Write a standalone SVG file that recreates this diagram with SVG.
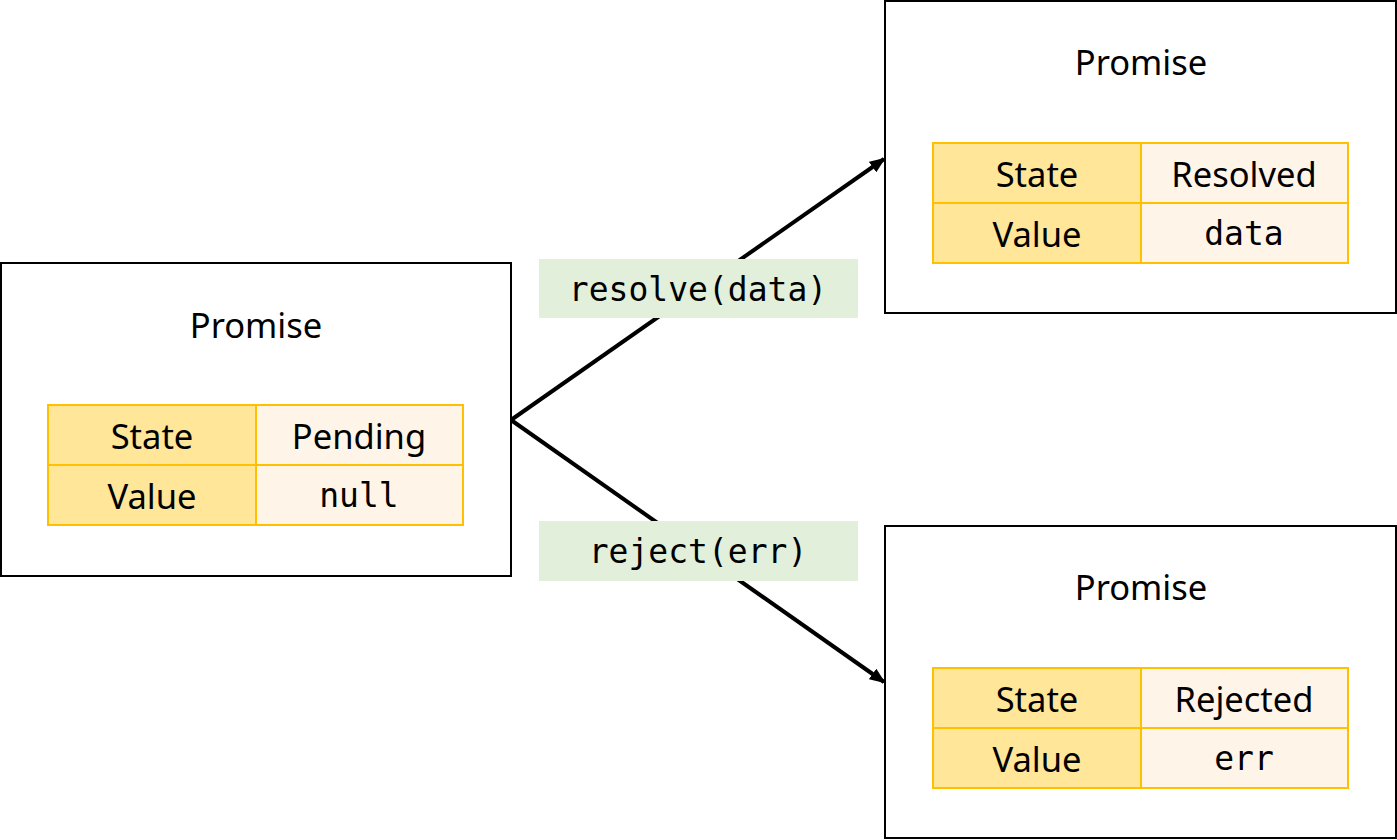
<svg xmlns="http://www.w3.org/2000/svg" width="1397" height="840" viewBox="0 0 1397 840">
<style>
.box{fill:#fff;stroke:#000;stroke-width:2}
.k{fill:#FFE699;stroke:#FFC000;stroke-width:2}
.v{fill:#FFF4E8;stroke:#FFC000;stroke-width:2}
.t{font-family:"Noto Sans","Open Sans",sans-serif;font-size:34.5px;fill:#000;text-anchor:middle;dominant-baseline:central}
.m{font-family:"DejaVu Sans Mono","Liberation Mono",monospace;font-size:33px;fill:#000;text-anchor:middle;dominant-baseline:central}
.lbl{fill:#E2EFDA}
.c{stroke:#000;stroke-width:4;fill:none}
</style>
<defs>
<marker id="ah" markerWidth="16" markerHeight="13" refX="14" refY="6.5" orient="auto" markerUnits="userSpaceOnUse">
<path d="M0,0 L16,6.5 L0,13 Z" fill="#000"/>
</marker>
</defs>
<g id="connectors">
<path class="c" d="M511,420 L884,159" marker-end="url(#ah)"/>
<path class="c" d="M511,420 L884,682" marker-end="url(#ah)"/>
</g>
<g id="label-resolve">
<rect class="lbl" x="539" y="259" width="319" height="59"/>
<text class="m" x="698" y="289">resolve(data)</text>
</g>
<g id="label-reject">
<rect class="lbl" x="539" y="521" width="319" height="60"/>
<text class="m" x="698" y="551">reject(err)</text>
</g>
<g id="pending">
<rect class="box" x="1" y="263" width="510" height="313"/>
<text class="t" x="256" y="324">Promise</text>
<rect class="k" x="48" y="405" width="208" height="60"/>
<rect class="v" x="256" y="405" width="207" height="60"/>
<rect class="k" x="48" y="465" width="208" height="60"/>
<rect class="v" x="256" y="465" width="207" height="60"/>
<text class="t" x="152" y="435">State</text>
<text class="t" x="359" y="435">Pending</text>
<text class="t" x="152" y="495">Value</text>
<text class="m" x="359" y="495">null</text>
</g>
<g id="resolved">
<rect class="box" x="885" y="1" width="511" height="312"/>
<text class="t" x="1141" y="61">Promise</text>
<rect class="k" x="933" y="143" width="208" height="60"/>
<rect class="v" x="1141" y="143" width="207" height="60"/>
<rect class="k" x="933" y="203" width="208" height="60"/>
<rect class="v" x="1141" y="203" width="207" height="60"/>
<text class="t" x="1037" y="173">State</text>
<text class="t" x="1244" y="173">Resolved</text>
<text class="t" x="1037" y="233">Value</text>
<text class="m" x="1244" y="233">data</text>
</g>
<g id="rejected">
<rect class="box" x="885" y="526" width="511" height="312"/>
<text class="t" x="1141" y="586">Promise</text>
<rect class="k" x="933" y="668" width="208" height="60"/>
<rect class="v" x="1141" y="668" width="207" height="60"/>
<rect class="k" x="933" y="728" width="208" height="60"/>
<rect class="v" x="1141" y="728" width="207" height="60"/>
<text class="t" x="1037" y="698">State</text>
<text class="t" x="1244" y="698">Rejected</text>
<text class="t" x="1037" y="758">Value</text>
<text class="m" x="1244" y="758">err</text>
</g>
</svg>
